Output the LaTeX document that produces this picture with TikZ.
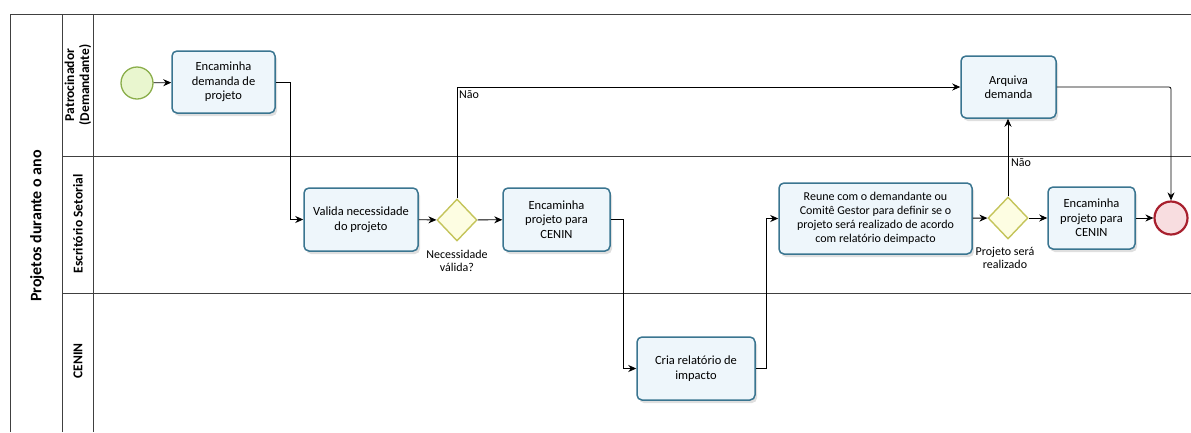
\documentclass[tikz,border=0pt]{standalone}
\usepackage{fontspec}
\setmainfont{Carlito}
\usetikzlibrary{arrows.meta,shapes.geometric,shadows}
\definecolor{taskborder}{HTML}{3A7590}
\definecolor{taskfill}{HTML}{EEF6FB}
\definecolor{startborder}{HTML}{8AAE4A}
\definecolor{startfill}{HTML}{E9F6CF}
\definecolor{endborder}{HTML}{A8202E}
\definecolor{endfill}{HTML}{F8DDE0}
\definecolor{gwborder}{HTML}{C4C45A}
\definecolor{gwfill}{HTML}{FDFDE2}
\definecolor{poolline}{HTML}{404040}
\tikzset{
  taskbox/.style={rectangle, rounded corners=5pt, draw=taskborder, line width=1.5pt,
    fill=taskfill, drop shadow={opacity=0.25, shadow xshift=2pt, shadow yshift=-3pt},
    align=center, font=\fontsize{12.5}{14.5}\selectfont, inner sep=2pt},
  gateway/.style={diamond, draw=gwborder, line width=1.4pt, fill=gwfill,
    minimum width=40pt, minimum height=42pt, inner sep=0pt},
  startev/.style={circle, draw=startborder, line width=1.3pt, fill=startfill,
    minimum size=32pt, inner sep=0pt},
  endev/.style={circle, draw=endborder, line width=2.2pt, fill=endfill,
    minimum size=33pt, inner sep=0pt},
  flow/.style={draw=black, line width=0.8pt, -{Stealth[length=8pt,width=7pt]}},
  lbl/.style={font=\fontsize{12}{13}\selectfont, inner sep=1pt},
  lanelbl/.style={font=\bfseries\fontsize{13.5}{15}\selectfont, rotate=90, align=center},
  pool/.style={draw=poolline, line width=0.9pt}
}
\begin{document}
\begin{tikzpicture}[x=1pt,y=-1pt]
\useasboundingbox (0,0) rectangle (1191,432);
% pool and lanes
\draw[pool] (10,432) -- (10,14) -- (1191,14);
\draw[pool] (62,14) -- (62,432);
\draw[pool] (93,14) -- (93,432);
\draw[pool] (62,156) -- (1191,156);
\draw[pool] (62,293) -- (1191,293);
\node[lanelbl, font=\bfseries\fontsize{16}{18}\selectfont] (pooltitle) at (37,226) {Projetos durante o ano};
\node[lanelbl] (lane1) at (78,85) {Patrocinador\\(Demandante)};
\node[lanelbl] (lane2) at (78,224) {Escritório Setorial};
\node[lanelbl] (lane3) at (78,361) {CENIN};

% nodes
\node[startev] (start) at (137,83) {};
\node[taskbox, minimum width=103pt, minimum height=62pt] (t1) at (223.5,82) {Encaminha\\demanda de\\projeto};
\node[taskbox, minimum width=114pt, minimum height=63pt] (t2) at (361,219.5) {Valida necessidade\\do projeto};
\node[gateway] (g1) at (457,220) {};
\node[lbl, align=center] (g1l) at (457,261) {Necessidade\\válida?};
\node[taskbox, minimum width=107pt, minimum height=63pt] (t3) at (556.5,219.5) {Encaminha\\projeto para\\CENIN};
\node[taskbox, minimum width=118pt, minimum height=63pt] (t4) at (696,368.5) {Cria relatório de\\impacto};
\node[taskbox, minimum width=193pt, minimum height=71pt, font=\fontsize{12}{14}\selectfont] (t5) at (875.5,218.5) {Reune com o demandante ou\\Comitê Gestor para definir se o\\projeto será realizado de acordo\\com relatório deimpacto};
\node[gateway] (g2) at (1008,218) {};
\node[lbl, align=center] (g2l) at (1005,258) {Projeto será\\realizado};
\node[taskbox, minimum width=87pt, minimum height=62pt] (t6) at (1091.5,218) {Encaminha\\projeto para\\CENIN};
\node[endev] (end) at (1171,218) {};
\node[taskbox, minimum width=95pt, minimum height=62pt] (t7) at (1008.5,87) {Arquiva\\demanda};

% connectors
\draw[flow] (start) -- (t1);
\draw[flow] (t1.east) -- ++(15,0) |- (t2.west);
\draw[flow] (t2) -- (g1);
\draw[flow] (g1) -- (t3);
\draw[flow] (g1.north) |- (t7.west);
\node[lbl, anchor=north west] (no1) at (458,89) {Não};
\draw[flow] (t3.east) -- ++(13,0) |- (t4.west);
\draw[flow] (t4.east) -- ++(11,0) |- (t5.west);
\draw[flow] (t5) -- (g2);
\draw[flow] (g2) -- (t6);
\draw[flow] (t6) -- (end);
\draw[flow] (g2.north) -- (g2.north |- t7.south);
\node[lbl, anchor=west] (no2) at (1010,163) {Não};
\draw[flow, rounded corners=2pt] (t7.east) -| (end.north);
\end{tikzpicture}
\end{document}
